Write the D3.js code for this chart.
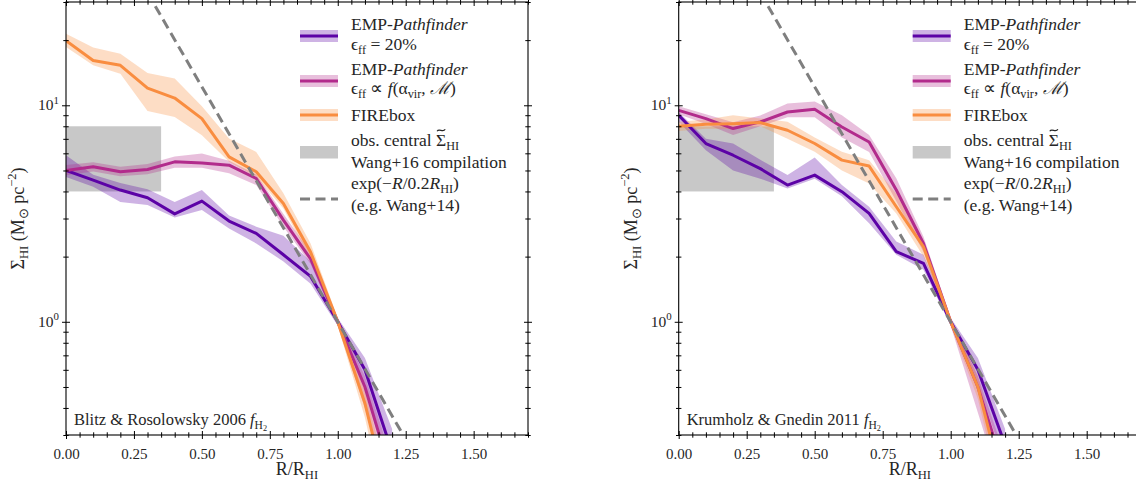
<!DOCTYPE html>
<html><head><meta charset="utf-8">
<script src="https://cdn.jsdelivr.net/npm/d3@7"></script>
<style>
body{margin:0;background:#fff}
svg{display:block}
</style>
</head><body>
<svg id="chart" width="1136" height="487"></svg>
<script>
// ---------------- data ----------------
const radius = [0,0.1,0.2,0.3,0.4,0.5,0.6,0.7,0.8,0.9,1.0,1.1,1.2];

// Left panel (Blitz & Rosolowsky 2006)
const leftPurple   = [5.0, 4.51, 4.06, 3.74, 3.15, 3.61, 2.92, 2.56, 2.04, 1.62, 1.0, 0.60, 0.25];
const leftPurpleLo = [4.67,4.20, 3.58, 3.46, 3.03, 3.28, 2.70, 2.30, 1.90, 1.50, 0.96, 0.50, 0.20];
const leftPurpleHi = [5.88,4.78, 4.38, 4.09, 3.58, 4.06, 3.10, 2.75, 2.50, 1.90, 1.04, 0.68, 0.32];
const leftMagenta   = [5.0, 5.20, 4.93, 5.05, 5.48, 5.42, 5.29, 4.59, 2.95, 1.95, 1.0, 0.50, 0.19];
const leftMagentaLo = [4.75,4.95, 4.70, 4.80, 5.15, 5.14, 4.85, 4.28, 2.75, 1.85, 0.96, 0.40, 0.14];
const leftMagentaHi = [5.30,5.45, 5.20, 5.35, 5.80, 5.99, 5.55, 4.80, 3.15, 2.10, 1.04, 0.56, 0.23];
const leftOrange   = [19.9, 16.1, 15.3, 12.0, 10.8, 8.68, 5.78, 4.93, 3.52, 2.10, 1.0, 0.42, 0.13];
const leftOrangeLo = [18.6, 15.3, 14.0, 9.4,  8.83, 7.27, 5.48, 4.67, 3.34, 1.95, 0.96, 0.36, 0.10];
const leftOrangeHi = [21.4, 18.5, 17.3, 14.1, 13.3, 9.9,  7.02, 6.09, 3.92, 2.30, 1.04, 0.48, 0.16];

// Right panel (Krumholz & Gnedin 2011)
const rightPurple   = [9.0, 6.66, 5.88, 5.10, 4.28, 4.76, 3.99, 3.17, 2.11, 1.86, 1.0, 0.60, 0.27];
const rightPurpleLo = [8.4, 6.20, 5.00, 4.58, 4.13, 4.58, 3.80, 2.85, 2.04, 1.74, 0.96, 0.52, 0.22];
const rightPurpleHi = [9.3, 7.00, 6.66, 5.60, 4.76, 5.74, 4.28, 3.40, 2.35, 2.04, 1.04, 0.68, 0.32];
const rightMagenta   = [9.48, 8.68, 7.81, 8.38, 9.31, 9.58, 7.94, 6.77, 4.06, 2.30, 1.0, 0.50, 0.20];
const rightMagentaLo = [9.10, 8.20, 7.30, 8.00, 8.80, 8.80, 7.10, 6.09, 3.60, 2.10, 0.96, 0.38, 0.15];
const rightMagentaHi = [9.90, 9.10, 8.35, 8.97, 10.2, 10.4, 9.00, 7.30, 4.60, 2.47, 1.04, 0.56, 0.24];
const rightOrange   = [8.00, 8.17, 8.22, 8.32, 7.67, 6.66, 5.58, 5.24, 3.40, 2.22, 1.0, 0.50, 0.16];
const rightOrangeLo = [7.60, 7.80, 7.80, 8.00, 7.00, 6.10, 5.00, 4.35, 3.16, 2.00, 0.96, 0.44, 0.13];
const rightOrangeHi = [8.40, 8.60, 9.00, 8.70, 8.40, 7.10, 6.10, 5.58, 3.90, 2.35, 1.04, 0.56, 0.19];

// observational box (Wang+16) : radius range and surface density range
const obsBoxR = [0, 0.35];
const obsBoxS = [4, 8];

// exponential reference line, read at two radii
const expR = [0.3, 1.3];
const expS = [33.1, 0.223];

// ticks
const xMajorTicks = [0, 0.25, 0.5, 0.75, 1.0, 1.25, 1.5];
const xMinorTicks = [0.05,0.1,0.15,0.2,0.3,0.35,0.4,0.45,0.55,0.6,0.65,0.7,0.8,0.85,0.9,0.95,
                     1.05,1.1,1.15,1.2,1.3,1.35,1.4,1.45,1.55,1.6,1.65,1.7];
const yMajorTicks = [1, 10];
const yMinorTicks = [0.3,0.4,0.5,0.6,0.7,0.8,0.9,2,3,4,5,6,7,8,9,20,30];

const panelTitles = ["Blitz & Rosolowsky 2006 ", "Krumholz & Gnedin 2011 "];

// ---------------- drawing ----------------
const FONT = '"Liberation Serif","Times New Roman",serif';
const svg = d3.select("#chart");
const COL = {purple:"#5c02a6", magenta:"#b22b8c", orange:"#f98d40", grey:"#c8c8c8", dash:"#7f7f7f"};

// multi-line rich text: lines = [[baselineY, segs], ...]
function richLines(sel, x, lines, size, anchor){
  const t = sel.append("text")
    .attr("font-family", FONT).attr("fill", "#262626")
    .attr("font-size", size).attr("text-anchor", anchor || "start");
  const spans = [];
  lines.forEach(([yy, segs]) => {
    let cur = 0;
    segs.forEach((s, j) => {
      const sp = t.append("tspan").text(s.t);
      let off = 0, fs = size;
      if (s.sub === 1) { off = size*0.24; fs = size*0.7; }
      if (s.sub === 2) { off = size*0.38; fs = size*0.5; }
      if (s.sup) { off = -size*0.42; fs = size*0.7; }
      if (j === 0) { sp.attr("x", x).attr("y", yy + off); }
      else sp.attr("dy", off - cur);
      cur = off;
      if (fs !== size) sp.attr("font-size", fs);
      if (s.it) sp.attr("font-style", "italic");
      spans.push({sp, s});
    });
  });
  t.spans = spans;
  return t;
}
const rich = (sel, x, y, segs, size, anchor) => richLines(sel, x, [[y, segs]], size, anchor);

const panels = [
  {x0:66, x1:528, title:panelTitles[0],
   series:[
     {c:COL.purple, v:leftPurple, lo:leftPurpleLo, hi:leftPurpleHi},
     {c:COL.magenta, v:leftMagenta, lo:leftMagentaLo, hi:leftMagentaHi},
     {c:COL.orange, v:leftOrange, lo:leftOrangeLo, hi:leftOrangeHi}]},
  {x0:678.7, x1:1141.1, title:panelTitles[1],
   series:[
     {c:COL.purple, v:rightPurple, lo:rightPurpleLo, hi:rightPurpleHi},
     {c:COL.magenta, v:rightMagenta, lo:rightMagentaLo, hi:rightMagentaHi},
     {c:COL.orange, v:rightOrange, lo:rightOrangeLo, hi:rightOrangeHi}]}
];

const yTop = 2, yBot = 435;

panels.forEach((p, pi) => {
  const x = d3.scaleLinear().domain([0, 1.7]).range([p.x0, p.x1]);
  const y = d3.scaleLog().domain([0.3, 30]).range([yBot, yTop]);
  const g = svg.append("g");

  const clipId = "clip" + pi;
  svg.append("clipPath").attr("id", clipId).append("rect")
    .attr("x", p.x0).attr("y", yTop).attr("width", p.x1 - p.x0).attr("height", yBot - yTop);
  const plot = g.append("g").attr("clip-path", `url(#${clipId})`);

  // obs box
  plot.append("rect")
    .attr("x", x(obsBoxR[0])).attr("width", x(obsBoxR[1]) - x(obsBoxR[0]))
    .attr("y", y(obsBoxS[1])).attr("height", y(obsBoxS[0]) - y(obsBoxS[1]))
    .attr("fill", COL.grey);

  // bands
  p.series.forEach(s => {
    const area = d3.area().x((d,i) => x(radius[i])).y0((d,i) => y(s.lo[i])).y1((d,i) => y(s.hi[i]));
    plot.append("path").datum(s.v).attr("d", area).attr("fill", s.c).attr("fill-opacity", 0.3);
  });
  // lines
  p.series.forEach(s => {
    const line = d3.line().x((d,i) => x(radius[i])).y(d => y(d));
    plot.append("path").datum(s.v).attr("d", line).attr("fill", "none")
      .attr("stroke", s.c).attr("stroke-width", 3).attr("stroke-linejoin", "round");
  });
  // exponential
  plot.append("path").datum(expS)
    .attr("d", d3.line().x((d,i) => x(expR[i])).y(d => y(d)))
    .attr("fill", "none").attr("stroke", COL.dash).attr("stroke-width", 3)
    .attr("stroke-dasharray", "10,5.5");

  // axes (in-out ticks)
  const fixTicks = (ax, len, horiz) => {
    ax.selectAll(".tick line").each(function(){
      const l = d3.select(this);
      if (horiz) l.attr("y1", -len).attr("y2", len); else l.attr("x1", -len).attr("x2", len);
    }).attr("stroke", "#000").attr("stroke-width", 1);
    ax.select(".domain").remove();
  };
  const axes = g.append("g");
  [yBot, yTop].forEach((yy, k) => {
    const aMaj = axes.append("g").attr("transform", `translate(0,${yy})`)
      .call(d3.axisBottom(x).tickValues(xMajorTicks).tickSize(4).tickPadding(6).tickFormat(d3.format(".2f")));
    fixTicks(aMaj, 4, true);
    aMaj.selectAll("text").attr("font-size", 15).attr("font-family", FONT)
      .attr("fill", "#262626").attr("dy", "0.95em");
    if (k === 1) aMaj.selectAll("text").remove();
    const aMin = axes.append("g").attr("transform", `translate(0,${yy})`)
      .call(d3.axisBottom(x).tickValues(xMinorTicks).tickSize(3).tickFormat(""));
    fixTicks(aMin, 2.7, true);
  });
  [p.x0, p.x1].forEach((xx, k) => {
    const aMaj = axes.append("g").attr("transform", `translate(${xx},0)`)
      .call(d3.axisLeft(y).tickValues(yMajorTicks).tickSize(4).tickFormat(""));
    fixTicks(aMaj, 4, false);
    const aMin = axes.append("g").attr("transform", `translate(${xx},0)`)
      .call(d3.axisLeft(y).tickValues(yMinorTicks).tickSize(3).tickFormat(""));
    fixTicks(aMin, 2.7, false);
  });
  // frame
  axes.append("rect").attr("x", p.x0).attr("y", yTop).attr("width", p.x1 - p.x0).attr("height", yBot - yTop)
    .attr("fill", "none").attr("stroke", "#000").attr("stroke-width", 1.1);

  // y tick labels 10^0, 10^1
  yMajorTicks.forEach(v => {
    rich(g, p.x0 - 7, y(v) + 5, [{t:"10"}, {t:String(Math.round(Math.log10(v))), sup:1}], 15.5, "end");
  });

  // axis labels
  rich(g, (p.x0 + p.x1) / 2, 475, [{t:"R/R"}, {t:"HI", sub:1}], 18, "middle");
  const yl = rich(g, 0, 0, [{t:"Σ"}, {t:"HI", sub:1}, {t:" (M"}, {t:"⊙", sub:1}, {t:" pc"}, {t:"−2", sup:1}, {t:")"}], 18, "middle");
  yl.attr("transform", `translate(${p.x0 - 42},${(yTop + yBot) / 2}) rotate(-90)`);

  // panel annotation
  rich(g, p.x0 + 8, 425, [{t:p.title}, {t:"f", it:true}, {t:"H", sub:1}, {t:"2", sub:2}], 16.5, "start");

  // legend
  const lx0 = p.x0 + 234, lx1 = p.x0 + 272, tx = p.x0 + 285;
  const leg = g.append("g");
  const legLine = (yy, c, band) => {
    if (band) leg.append("rect").attr("x", lx0).attr("width", lx1 - lx0).attr("y", yy - 6).attr("height", 12)
      .attr("fill", c).attr("fill-opacity", 0.3);
    leg.append("line").attr("x1", lx0).attr("x2", lx1).attr("y1", yy).attr("y2", yy)
      .attr("stroke", c).attr("stroke-width", 3);
  };
  const fs = 17.5;
  legLine(36, COL.purple, true);
  richLines(leg, tx, [
    [30, [{t:"EMP-"}, {t:"Pathfinder", it:true}]],
    [49.5, [{t:"ϵ"}, {t:"ff", sub:1}, {t:" = 20%"}]]], fs);
  legLine(81, COL.magenta, true);
  richLines(leg, tx, [
    [74.5, [{t:"EMP-"}, {t:"Pathfinder", it:true}]],
    [94, [{t:"ϵ"}, {t:"ff", sub:1}, {t:" ∝ "}, {t:"f", it:true}, {t:"(α"}, {t:"vir", sub:1}, {t:", "}, {t:"ℳ", it:true}, {t:")"}]]], fs);
  legLine(115, COL.orange, true);
  rich(leg, tx, 121, [{t:"FIREbox"}], fs);
  leg.append("rect").attr("x", lx0).attr("width", lx1 - lx0).attr("y", 146).attr("height", 12.5).attr("fill", COL.grey);
  const obsT = richLines(leg, tx, [
    [145.5, [{t:"obs. central Σ"}, {t:"HI", sub:1}]],
    [168, [{t:"Wang+16 compilation"}]]], fs);
  // tilde over the Σ drawn as a small path
  const sigmaNode = obsT.spans[0].sp.node();
  const nChars = obsT.spans[0].s.t.length;
  const sx0 = sigmaNode.getStartPositionOfChar(nChars - 1).x;
  const sx1 = sigmaNode.getEndPositionOfChar(nChars - 1).x;
  const tcx = (sx0 + sx1) / 2, tw = (sx1 - sx0) * 0.8, ty = 145.5 - 15.5;
  leg.append("path")
    .attr("d", `M${tcx - tw/2},${ty + 1.2} C${tcx - tw/4},${ty - 2.2} ${tcx + tw/4},${ty + 3.2} ${tcx + tw/2},${ty - 0.8}`)
    .attr("fill", "none").attr("stroke", "#262626").attr("stroke-width", 1.1);
  leg.append("line").attr("x1", lx0).attr("x2", lx1).attr("y1", 199).attr("y2", 199)
    .attr("stroke", COL.dash).attr("stroke-width", 3).attr("stroke-dasharray", "10,5.5");
  richLines(leg, tx, [
    [189, [{t:"exp(−"}, {t:"R", it:true}, {t:"/0.2"}, {t:"R", it:true}, {t:"HI", sub:1}, {t:")"}]],
    [211, [{t:"(e.g. Wang+14)"}]]], fs);
});
</script>
</body></html>
